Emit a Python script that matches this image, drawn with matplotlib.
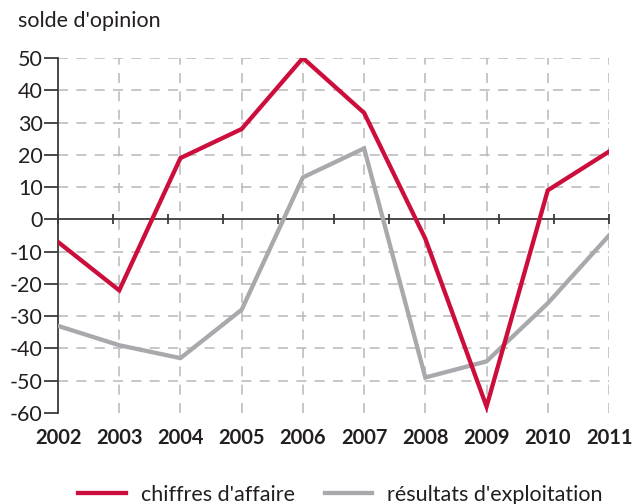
import matplotlib
matplotlib.use("Agg")
import matplotlib.pyplot as plt
import numpy as np

years = [2002, 2003, 2004, 2005, 2006, 2007, 2008, 2009, 2010, 2011]
chiffres = [-7, -22, 19, 28, 50, 33, -6, -58, 9, 21]
resultats = [-33, -39, -43, -28, 13, 22, -49, -44, -26, -5]
yticks = [-60, -50, -40, -30, -20, -10, 0, 10, 20, 30, 40, 50]
labels = ["chiffres d'affaire", "résultats d'exploitation"]

RED = "#CC0E3D"
GRAY = "#A8A9AD"
DARK = "#231F20"

plt.rcParams['font.family'] = ['Lato', 'DejaVu Sans']

fig = plt.figure(figsize=(6.34, 5.04), dpi=100)
ax = fig.add_axes([58/634, 1-413/504, (609-58)/634, (413-58)/504])

ax.set_xlim(years[0], years[-1])
ax.set_ylim(-60, 50)

# grid
for y in yticks:
    if y in (0, -60):
        continue
    ax.axhline(y, color="#BDBDBD", lw=1.2, dashes=(6, 5), zorder=1)
for x in years[1:]:
    ax.axvline(x, color="#BDBDBD", lw=1.2, dashes=(6, 5), zorder=1)

# zero axis with its own ticks
ax.axhline(0, color="#3a3a3a", lw=1.3, zorder=2)
zt = np.linspace(years[0], years[-1], 11)
ax.plot(zt, np.zeros_like(zt), ls='none', marker='|', ms=7, mew=1.3, color="#3a3a3a", zorder=2, clip_on=False)

l1, = ax.plot(years, chiffres, color=RED, lw=3.1, zorder=4, solid_joinstyle='miter', label=labels[0])
l2, = ax.plot(years, resultats, color=GRAY, lw=3.1, zorder=3, solid_joinstyle='miter', label=labels[1])

for s in ['top', 'right', 'bottom']:
    ax.spines[s].set_visible(False)
ax.spines['left'].set_color("#3a3a3a")
ax.spines['left'].set_linewidth(1.3)

ax.set_yticks(yticks)
ax.set_yticklabels([str(v) for v in yticks], fontsize=15.5, color=DARK)
ax.tick_params(axis='y', direction='out', length=10, width=1.3, color="#3a3a3a", pad=1)
ax.set_xticks(years)
ax.set_xticklabels([str(v) for v in years], fontsize=14.5, fontweight='bold', color=DARK)
ax.tick_params(axis='x', length=0, pad=11)

fig.text(18/634, 1-21/504, "solde d'opinion", fontsize=15.5, color=DARK, va='center', ha='left')

fig.legend(handles=[l1, l2], loc='center', bbox_to_anchor=(0.537, 1-495/504), ncol=2,
           frameon=False, fontsize=15.5, handlelength=2.2, handletextpad=0.7, columnspacing=1.4,
           labelcolor=DARK)

fig.savefig("out.png", dpi=100)
